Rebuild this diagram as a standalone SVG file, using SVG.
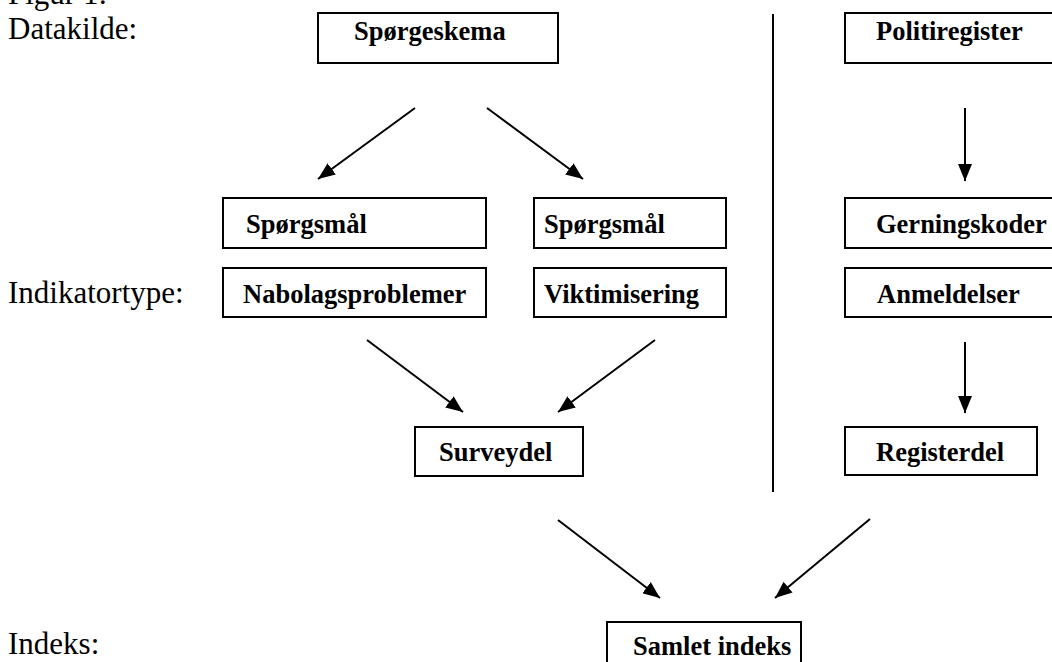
<svg xmlns="http://www.w3.org/2000/svg" width="1052" height="662" viewBox="0 0 1052 662">
<style>
.lbl{font-family:"Liberation Serif","Times New Roman",serif;font-size:31px;fill:#000}
.bt{font-family:"Liberation Serif","Times New Roman",serif;font-size:26.5px;font-weight:bold;fill:#000}
.box{fill:#fff;stroke:#000;stroke-width:2}
.ar{stroke:#000;stroke-width:2;fill:none;marker-end:url(#ah)}
</style>
<defs>
<marker id="ah" markerUnits="userSpaceOnUse" markerWidth="18" markerHeight="14" refX="17" refY="7" orient="auto">
<path d="M0,0 L17,7 L0,14 Z" fill="#000"/>
</marker>
</defs>
<rect width="1052" height="662" fill="#fff"/>
<g id="labels">
<text class="lbl" x="8" y="4">Figur 1:</text>
<text class="lbl" x="8" y="39">Datakilde:</text>
<text class="lbl" x="8" y="303">Indikatortype:</text>
<text class="lbl" x="8" y="654">Indeks:</text>
</g>
<g id="connectors">
<line x1="773" y1="14" x2="773" y2="492" stroke="#000" stroke-width="2"/>
<line class="ar" x1="415" y1="108" x2="318" y2="179"/>
<line class="ar" x1="487" y1="108" x2="583" y2="179"/>
<line class="ar" x1="965" y1="108" x2="965" y2="181"/>
<line class="ar" x1="367" y1="340" x2="463" y2="412"/>
<line class="ar" x1="655" y1="340" x2="558" y2="412"/>
<line class="ar" x1="965" y1="342" x2="965" y2="413"/>
<line class="ar" x1="558" y1="520" x2="660" y2="598"/>
<line class="ar" x1="870" y1="519" x2="775" y2="598"/>
</g>
<g id="n-spoergeskema"><rect class="box" x="318" y="13" width="240" height="50"/><text class="bt" x="354" y="40">Spørgeskema</text></g>
<g id="n-politiregister"><rect class="box" x="845" y="13" width="220" height="50"/><text class="bt" x="876" y="40">Politiregister</text></g>
<g id="n-spm1"><rect class="box" x="223" y="198" width="263" height="50"/><text class="bt" x="246" y="233">Spørgsmål</text></g>
<g id="n-spm2"><rect class="box" x="534" y="198" width="192" height="50"/><text class="bt" x="544" y="233">Spørgsmål</text></g>
<g id="n-gerningskoder"><rect class="box" x="845" y="198" width="220" height="50"/><text class="bt" x="876" y="233">Gerningskoder</text></g>
<g id="n-nabolag"><rect class="box" x="223" y="268" width="263" height="49"/><text class="bt" x="243" y="303">Nabolagsproblemer</text></g>
<g id="n-viktim"><rect class="box" x="534" y="268" width="192" height="49"/><text class="bt" x="544" y="303">Viktimisering</text></g>
<g id="n-anmeld"><rect class="box" x="845" y="268" width="220" height="49"/><text class="bt" x="877" y="303">Anmeldelser</text></g>
<g id="n-survey"><rect class="box" x="415" y="427" width="168" height="49"/><text class="bt" x="439" y="461">Surveydel</text></g>
<g id="n-register"><rect class="box" x="845" y="427" width="192" height="48"/><text class="bt" x="876" y="461">Registerdel</text></g>
<g id="n-samlet"><rect class="box" x="607" y="622" width="194" height="60"/><text class="bt" x="633" y="655">Samlet indeks</text></g>
</svg>
